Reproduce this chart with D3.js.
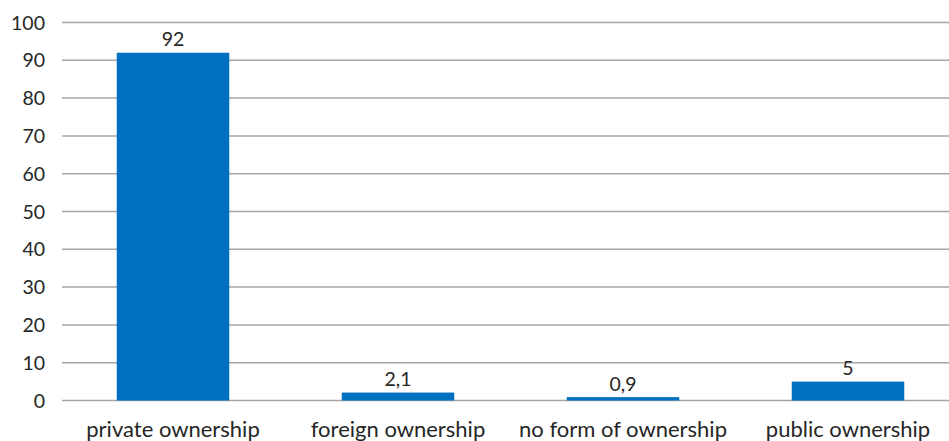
<!DOCTYPE html>
<html><head><meta charset="utf-8">
<script src="https://cdn.jsdelivr.net/npm/d3@7"></script>
<style>body{margin:0;background:#fff}text{font-family:Lato,"Open Sans",sans-serif}</style>
</head><body>
<svg id="c" width="949" height="441"></svg>
<script>
const categories = ["private ownership","foreign ownership","no form of ownership","public ownership"];
const values = [92, 2.1, 0.9, 5];
const valueLabels = ["92","2,1","0,9","5"];
const yTicks = [0,10,20,30,40,50,60,70,80,90,100];

const svg = d3.select("#c");
const x = d3.scaleBand().domain(categories).range([60.5, 960.5]).paddingInner(0.5).paddingOuter(0.25);
const y = d3.scaleLinear().domain([0,100]).range([400.5, 22.5]);

svg.append("g").selectAll("line").data(yTicks).join("line")
  .attr("x1", 62).attr("x2", 949)
  .attr("y1", d=>y(d)).attr("y2", d=>y(d))
  .attr("stroke", "#a6a6a6").attr("stroke-width", 1.5);

svg.append("g").selectAll("text").data(yTicks).join("text")
  .attr("x", 45).attr("y", d=>y(d)).attr("dy","0.36em")
  .attr("text-anchor","end").attr("font-size",19.5).attr("fill","#262626")
  .text(d=>d);

svg.append("g").selectAll("rect").data(values).join("rect")
  .attr("x",(d,i)=>x(categories[i])).attr("width",x.bandwidth())
  .attr("y",d=>y(d)).attr("height",d=>y(0)-y(d))
  .attr("fill","#0070c0");

svg.append("g").selectAll("text").data(values).join("text")
  .attr("x",(d,i)=>x(categories[i])+x.bandwidth()/2).attr("y",d=>y(d)-6.5)
  .attr("text-anchor","middle").attr("font-size",19.5).attr("fill","#262626")
  .text((d,i)=>valueLabels[i]);

svg.append("g").selectAll("text").data(categories).join("text")
  .attr("x",d=>x(d)+x.bandwidth()/2).attr("y",437)
  .attr("text-anchor","middle").attr("font-size",22).attr("fill","#262626")
  .text(d=>d);
</script>
</body></html>
